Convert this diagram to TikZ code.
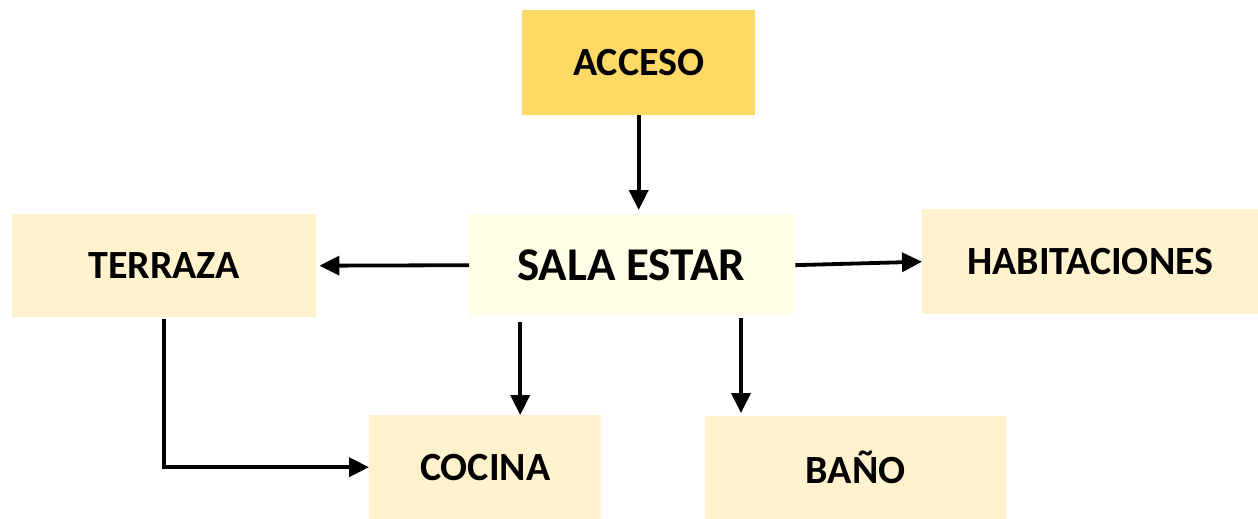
\documentclass[tikz,border=0pt]{standalone}
\usepackage{fontspec}
\setmainfont{Carlito}
\usepackage{xcolor}
\usetikzlibrary{positioning, arrows.meta}
\definecolor{accesoC}{HTML}{FFD966}
\definecolor{salaC}{HTML}{FFFDE6}
\definecolor{roomC}{HTML}{FFF2CC}
\begin{document}
\begin{tikzpicture}[x=1pt, y=-1pt, >={Triangle[length=20pt, width=19pt]},
    room/.style={fill=roomC, inner sep=0pt, anchor=north west, font=\fontsize{40}{48}\selectfont\bfseries},
    arr/.style={->, line width=3.8pt}]
    \useasboundingbox (0,0) rectangle (1258,519);
    \node [room, fill=accesoC, minimum width=233pt, minimum height=105pt] (acceso) at (522,10) {ACCESO};
    \node [room, fill=salaC, minimum width=324pt, minimum height=102pt, font=\fontsize{47}{56}\selectfont\bfseries] (sala) at (469,214) {SALA ESTAR};
    \node [room, minimum width=304pt, minimum height=103pt] (terraza) at (12,214) {TERRAZA};
    \node [room, minimum width=336pt, minimum height=105pt] (habit) at (922,209) {HABITACIONES};
    \node [room, minimum width=232pt, minimum height=104pt] (cocina) at (369,415) {COCINA};
    \node [room, minimum width=301pt, minimum height=103pt] (bano) at (705,416) {BAÑO};

    \draw [arr, shorten >=4pt] (acceso.south) -- (acceso.south |- sala.north);
    \draw [arr, shorten >=3pt] (sala.west) -- (terraza.east);
    \draw [arr, shorten <=2pt] (sala.east) -- (habit.west);
    \draw [arr, shorten <=6pt] ([xshift=35pt]cocina.north |- sala.south) -- ([xshift=35pt]cocina.north);
    \draw [arr, shorten <=2pt, shorten >=3pt] ([xshift=36pt]bano.north west |- sala.south) -- ([xshift=36pt]bano.north west);
    % terraza down and across to cocina
    \draw [arr, shorten <=2pt] (terraza.south) |- (cocina.west);
\end{tikzpicture}
\end{document}
